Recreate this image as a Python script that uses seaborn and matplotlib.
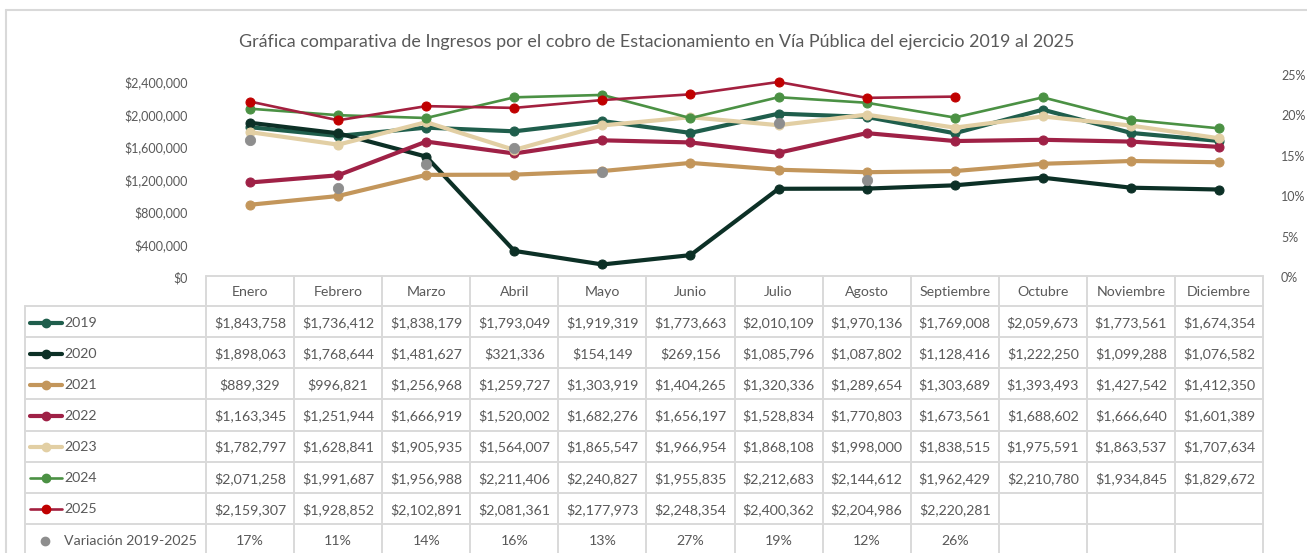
import numpy as np
import pandas as pd
import matplotlib
matplotlib.use("Agg")
import matplotlib.pyplot as plt
from matplotlib.lines import Line2D
import seaborn as sns

# ---------------- data ----------------
months = ["Enero", "Febrero", "Marzo", "Abril", "Mayo", "Junio", "Julio",
          "Agosto", "Septiembre", "Octubre", "Noviembre", "Diciembre"]
years = ["2019", "2020", "2021", "2022", "2023", "2024", "2025"]
v2019 = [1843758, 1736412, 1838179, 1793049, 1919319, 1773663, 2010109, 1970136, 1769008, 2059673, 1773561, 1674354]
v2020 = [1898063, 1768644, 1481627, 321336, 154149, 269156, 1085796, 1087802, 1128416, 1222250, 1099288, 1076582]
v2021 = [889329, 996821, 1256968, 1259727, 1303919, 1404265, 1320336, 1289654, 1303689, 1393493, 1427542, 1412350]
v2022 = [1163345, 1251944, 1666919, 1520002, 1682276, 1656197, 1528834, 1770803, 1673561, 1688602, 1666640, 1601389]
v2023 = [1782797, 1628841, 1905935, 1564007, 1865547, 1966954, 1868108, 1998000, 1838515, 1975591, 1863537, 1707634]
v2024 = [2071258, 1991687, 1956988, 2211406, 2240827, 1955835, 2212683, 2144612, 1962429, 2210780, 1934845, 1829672]
v2025 = [2159307, 1928852, 2102891, 2081361, 2177973, 2248354, 2400362, 2204986, 2220281]
variacion = [17, 11, 14, 16, 13, 27, 19, 12, 26]  # percent
var_label = "Variación 2019-2025"
title = "Gráfica comparativa de Ingresos por el cobro de Estacionamiento en Vía Pública del ejercicio 2019 al 2025"
left_ticks = [0, 400000, 800000, 1200000, 1600000, 2000000, 2400000]
right_ticks = [0, 5, 10, 15, 20, 25]

series = [v2019, v2020, v2021, v2022, v2023, v2024, v2025]

# ---------------- style ----------------
line_colors = ["#1f5e4c", "#0c3026", "#c3965b", "#9f2146", "#e2cfa4", "#4b9144", "#a3203f"]
marker_colors = ["#1f5e4c", "#0c3026", "#c3965b", "#9f2146", "#e2cfa4", "#4b9144", "#c00000"]
line_widths = [3.0, 3.0, 3.0, 3.0, 3.0, 1.9, 1.9]
gray = "#8e8e8e"
text_col = "#595959"
grid_col = "#d9d9d9"

sns.set_theme(style="white")
plt.rcParams["font.family"] = ["Lato", "DejaVu Sans"]

W, H = 1307, 553
fig = plt.figure(figsize=(W / 100, H / 100), dpi=100)
fig.patch.set_facecolor("white")

# overlay axes in pixel coordinates (for border + data table)
ov = fig.add_axes([0, 0, 1, 1])
ov.set_xlim(0, W)
ov.set_ylim(H, 0)
ov.axis("off")

# chart border
ov.plot([6, 6], [10, H + 5], color=grid_col, lw=1.5)
ov.plot([6, W + 5], [10, 10], color=grid_col, lw=1.5)

# title
ov.text(657, 42, title, ha="center", va="center", fontsize=12.9, color=text_col)

# ---------------- main plot ----------------
x0, x1, ytop, ybot = 206, 1263, 75, 277
ax = fig.add_axes([x0 / W, 1 - ybot / H, (x1 - x0) / W, (ybot - ytop) / H])
ax.patch.set_alpha(0)
n = len(months)
long = []
for yname, vals in zip(years, series):
    for i, v in enumerate(vals):
        long.append({"idx": i, "valor": v, "anio": yname})
df = pd.DataFrame(long)

for k, yname in enumerate(years):
    sub = df[df["anio"] == yname]
    sns.lineplot(data=sub, x="idx", y="valor", ax=ax, color=line_colors[k],
                 lw=line_widths[k], marker="o", markersize=6.5,
                 markerfacecolor=marker_colors[k], markeredgecolor=marker_colors[k],
                 legend=False, zorder=3 + k)

ax.set_xlim(-0.5, n - 0.5)
ax.set_ylim(0, 2400000 * (ybot - ytop) / (ybot - 82))
ax.set_yticks(left_ticks)
ax.set_yticklabels([f"${t:,}" for t in left_ticks])
ax.set_xticks([])
ax.set_xlabel("")
ax.set_ylabel("")
ax.tick_params(axis="y", length=0, pad=13, labelsize=9, labelcolor=text_col)
for s in ax.spines.values():
    s.set_visible(False)

ax2 = ax.twinx()
ax2.patch.set_alpha(0)
vdf = pd.DataFrame({"idx": range(len(variacion)), "var": variacion})
sns.scatterplot(data=vdf, x="idx", y="var", ax=ax2, color=gray, s=55,
                edgecolor=gray, legend=False, zorder=20)
ax2.set_ylim(0, 25)
ax2.set_yticks(right_ticks)
ax2.set_yticklabels([f"{t}%" for t in right_ticks])
ax2.set_xlim(-0.5, n - 0.5)
ax2.set_ylabel("")
ax2.tick_params(axis="y", length=0, pad=13, labelsize=9, labelcolor=text_col)
for s in ax2.spines.values():
    s.set_visible(False)

# ---------------- data table ----------------
colw = (x1 - x0) / n
lab_x0 = 25
hdr_top, hdr_bot = 276, 306
rowh = 31.15
nrows = len(years) + 1
fs_tab = 10.2

# header grid
ov.plot([x0, x1], [hdr_top, hdr_top], color=grid_col, lw=1.4)
for j in range(n + 1):
    xx = x0 + j * colw
    ov.plot([xx, xx], [hdr_top, H + 5], color=grid_col, lw=1.4)
ov.plot([lab_x0, lab_x0], [hdr_bot, H + 5], color=grid_col, lw=1.4)
for r in range(nrows + 1):
    yy = hdr_bot + r * rowh
    ov.plot([lab_x0, x1], [yy, yy], color=grid_col, lw=1.4)

for j, m in enumerate(months):
    ov.text(x0 + (j + 0.5) * colw, (hdr_top + hdr_bot) / 2 + 1, m,
            ha="center", va="center", fontsize=fs_tab, color=text_col)

for r, (yname, vals) in enumerate(zip(years, series)):
    yc = hdr_bot + (r + 0.5) * rowh + 1
    ov.add_line(Line2D([30, 62], [yc, yc], color=line_colors[r],
                       lw=line_widths[r], zorder=5))
    ov.plot([46], [yc], marker="o", markersize=6, color=marker_colors[r], zorder=6)
    ov.text(64, yc, yname, ha="left", va="center", fontsize=fs_tab, color=text_col)
    for j, v in enumerate(vals):
        ov.text(x0 + (j + 0.5) * colw, yc, f"${v:,}", ha="center", va="center",
                fontsize=fs_tab, color=text_col)

yc = hdr_bot + (nrows - 0.5) * rowh + 1
ov.plot([45], [yc], marker="o", markersize=6, color=gray, zorder=6)
ov.text(64, yc, var_label, ha="left", va="center", fontsize=fs_tab, color=text_col)
for j, v in enumerate(variacion):
    ov.text(x0 + (j + 0.5) * colw, yc, f"{v}%", ha="center", va="center",
            fontsize=fs_tab, color=text_col)

fig.savefig("out.png", dpi=100)
